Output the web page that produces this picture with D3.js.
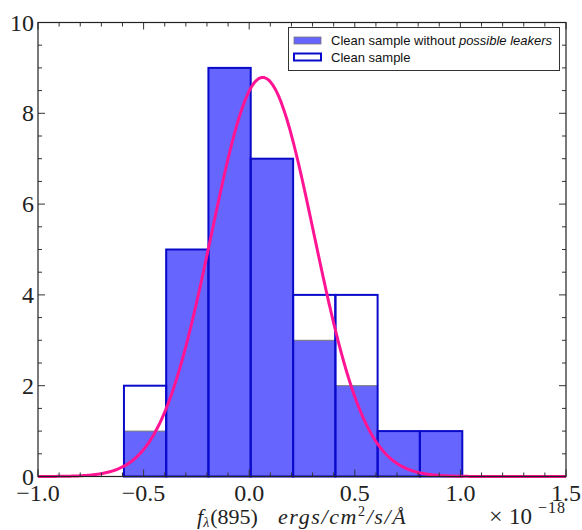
<!DOCTYPE html>
<html><head><meta charset="utf-8">
<script src="https://cdn.jsdelivr.net/npm/d3@7"></script>
<style>body{margin:0;background:#fff}svg{display:block}</style>
</head><body>
<script>
const binEdges = [-0.593, -0.393, -0.193, 0.007, 0.208, 0.408, 0.608, 0.808, 1.009];
const cleanNoLeakers = [1, 5, 9, 7, 3, 2, 1, 1];
const cleanSample = [2, 5, 9, 7, 4, 4, 1, 1];
const gaussFit = {mu: 0.064, sigma: 0.243, amp: 8.79};
const xTicks = [-1.0, -0.5, 0.0, 0.5, 1.0, 1.5];
const yTicks = [0, 2, 4, 6, 8, 10];

const W = 582, H = 530;
const m = {l: 38, r: 16, t: 22.5, b: 53.5};
const svg = d3.select("body").append("svg").attr("width", W).attr("height", H);
const x = d3.scaleLinear().domain([-1.0, 1.5]).range([m.l, W - m.r]);
const y = d3.scaleLinear().domain([0, 10]).range([H - m.b, m.t]);

const bins = cleanNoLeakers.map((v, i) => ({x0: binEdges[i], x1: binEdges[i + 1], a: v, b: cleanSample[i]}));

// filled histogram
svg.append("g").selectAll("rect").data(bins).join("rect")
  .attr("x", d => x(d.x0)).attr("width", d => x(d.x1) - x(d.x0))
  .attr("y", d => y(d.a)).attr("height", d => y(0) - y(d.a))
  .attr("fill", "#6666ff").attr("stroke", "#777").attr("stroke-width", 1);

// outlined histogram
svg.append("g").selectAll("rect").data(bins).join("rect")
  .attr("x", d => x(d.x0)).attr("width", d => x(d.x1) - x(d.x0))
  .attr("y", d => y(d.b)).attr("height", d => y(0) - y(d.b))
  .attr("fill", "none").attr("stroke", "#0a0acc").attr("stroke-width", 2);

// gaussian fit
const xs = d3.range(-1.0, 1.5001, 0.005);
const gauss = v => gaussFit.amp * Math.exp(-((v - gaussFit.mu) ** 2) / (2 * gaussFit.sigma ** 2));
svg.append("path").datum(xs)
  .attr("d", d3.line().x(d => x(d)).y(d => y(gauss(d))))
  .attr("fill", "none").attr("stroke", "#ff1493").attr("stroke-width", 3);

// axes with inward ticks
const tickCol = "#333";
function axisTicks() {
  const g = svg.append("g");
  const xMinor = d3.range(-1.0, 1.5001, 0.1);
  const yMinor = d3.range(0, 10.001, 0.5);
  xMinor.forEach(v => {
    const major = xTicks.some(t => Math.abs(t - v) < 1e-6);
    const len = major ? 7 : 4;
    g.append("line").attr("x1", x(v)).attr("x2", x(v)).attr("y1", y(0)).attr("y2", y(0) - len).attr("stroke", tickCol);
    g.append("line").attr("x1", x(v)).attr("x2", x(v)).attr("y1", y(10)).attr("y2", y(10) + len).attr("stroke", tickCol);
  });
  yMinor.forEach(v => {
    const major = yTicks.some(t => Math.abs(t - v) < 1e-6);
    const len = major ? 7 : 4;
    g.append("line").attr("y1", y(v)).attr("y2", y(v)).attr("x1", x(-1)).attr("x2", x(-1) + len).attr("stroke", tickCol);
    g.append("line").attr("y1", y(v)).attr("y2", y(v)).attr("x1", x(1.5)).attr("x2", x(1.5) - len).attr("stroke", tickCol);
  });
}
axisTicks();

svg.append("rect").attr("x", x(-1)).attr("y", y(10)).attr("width", x(1.5) - x(-1)).attr("height", y(0) - y(10))
  .attr("fill", "none").attr("stroke", "#222").attr("stroke-width", 1.2);

// tick labels
const serif = "'Liberation Serif', serif";
const fmt = v => (v < 0 ? "\u2212" : "") + Math.abs(v).toFixed(1);
svg.append("g").selectAll("text").data(xTicks).join("text")
  .attr("x", d => x(d)).attr("y", y(0) + 24).attr("text-anchor", "middle")
  .attr("font-family", serif).attr("font-size", 24).attr("fill", "#222")
  .text(fmt);
svg.append("g").selectAll("text").data(yTicks).join("text")
  .attr("x", x(-1) - 4).attr("y", d => y(d) + 8).attr("text-anchor", "end")
  .attr("font-family", serif).attr("font-size", 24).attr("fill", "#222")
  .text(d => d);

// axis title
const t1 = svg.append("text").attr("x", 197).attr("y", 524)
  .attr("font-family", serif).attr("font-size", 22).attr("fill", "#222");
t1.append("tspan").attr("font-style", "italic").text("f");
t1.append("tspan").attr("font-style", "italic").attr("font-size", 14).attr("dy", 3).text("λ");
t1.append("tspan").attr("dy", -3).attr("dx", 1).text("(895)");

const t2 = svg.append("text").attr("x", 278).attr("y", 524)
  .attr("font-family", serif).attr("font-size", 22).attr("fill", "#222")
  .attr("font-style", "italic").attr("letter-spacing", 1.6);
t2.append("tspan").text("ergs/cm");
t2.append("tspan").attr("font-size", 14).attr("font-style", "normal").attr("dy", -8).text("2");
t2.append("tspan").attr("dy", 8).text("/s/Å");

const s = svg.append("g").attr("font-family", serif).attr("fill", "#222");
s.append("text").attr("x", 489).attr("y", 524).attr("font-size", 24).text("×");
s.append("text").attr("x", 509).attr("y", 524).attr("font-size", 23).text("10");
s.append("text").attr("x", 538).attr("y", 513).attr("font-size", 16)
  .attr("letter-spacing", 1).text("\u221218");

// legend
const lg = svg.append("g");
lg.append("rect").attr("x", 288.5).attr("y", 27.5).attr("width", 271).attr("height", 43)
  .attr("fill", "#fff").attr("stroke", "#333").attr("stroke-width", 1);
lg.append("rect").attr("x", 294).attr("y", 37).attr("width", 27).attr("height", 7)
  .attr("fill", "#6666ff").attr("stroke", "#777").attr("stroke-width", 0.8);
lg.append("rect").attr("x", 294).attr("y", 53.5).attr("width", 27).attr("height", 7)
  .attr("fill", "#fff").attr("stroke", "#0a0acc").attr("stroke-width", 2);
const sans = "'Liberation Sans', Arial, sans-serif";
const l1 = lg.append("text").attr("x", 331).attr("y", 45).attr("font-family", sans).attr("font-size", 13).attr("fill", "#111");
l1.append("tspan").text("Clean sample without ");
l1.append("tspan").attr("font-style", "italic").text("possible leakers");
lg.append("text").attr("x", 331).attr("y", 62).attr("font-family", sans).attr("font-size", 13).attr("fill", "#111")
  .text("Clean sample");
</script>
</body></html>
